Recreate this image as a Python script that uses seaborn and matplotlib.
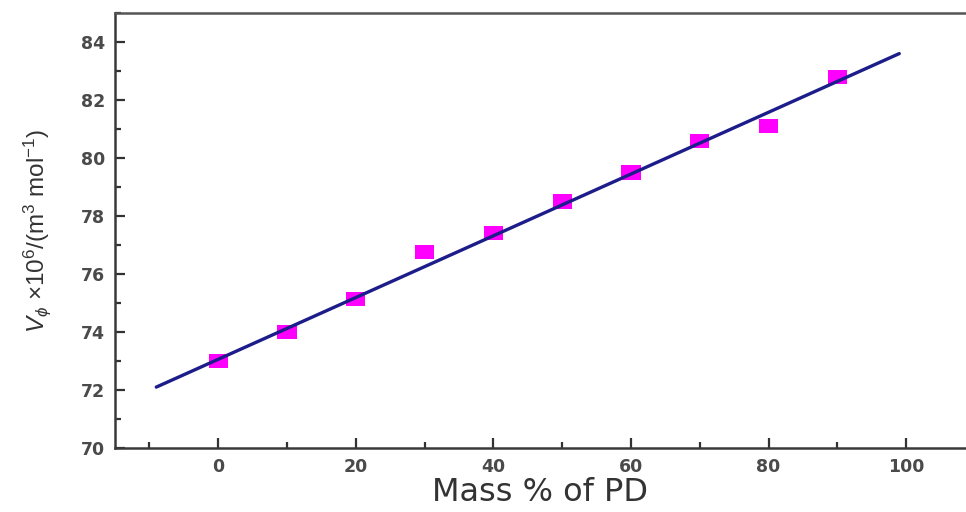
import matplotlib
matplotlib.use("Agg")
import matplotlib.pyplot as plt
import matplotlib.ticker as mticker
import seaborn as sns
import pandas as pd

# data
mass_pct = [0, 10, 20, 30, 40, 50, 60, 70, 80, 90]
v_phi = [73.0, 74.0, 75.15, 76.75, 77.4, 78.5, 79.5, 80.6, 81.1, 82.8]
fit_x = [-9, 99]
fit_y = [72.1, 83.6]

sns.set_theme(style="ticks")
plt.rcParams["font.family"] = ["DejaVu Sans"]
plt.rcParams["mathtext.fontset"] = "custom"
plt.rcParams["mathtext.rm"] = "Liberation Sans"
plt.rcParams["mathtext.it"] = "Liberation Sans:italic"

df = pd.DataFrame({"mass": mass_pct, "v": v_phi})
fit = pd.DataFrame({"x": fit_x, "y": fit_y})

fig = plt.figure(figsize=(9.66, 5.12), dpi=100)
ax = fig.add_axes([115 / 966, 1 - 448 / 512, 1 - 115 / 966, (448 - 13) / 512])

# slightly wide square marker, like the stretched original
rect = [(-1.35, -1), (1.35, -1), (1.35, 1), (-1.35, 1), (-1.35, -1)]
sns.scatterplot(data=df, x="mass", y="v", ax=ax, marker=rect, s=190,
                color="#ff00ff", edgecolor="none", zorder=2)
sns.lineplot(data=fit, x="x", y="y", ax=ax, color="#1c1c8a", linewidth=2.4, zorder=3)

ax.set_xlim(-15, 108.7)
ax.set_ylim(70, 85)
ax.xaxis.set_major_locator(mticker.MultipleLocator(20))
ax.xaxis.set_minor_locator(mticker.MultipleLocator(10))
ax.yaxis.set_major_locator(mticker.MultipleLocator(2))
ax.yaxis.set_minor_locator(mticker.MultipleLocator(1))
ax.tick_params(which="major", direction="in", length=7, width=1.6, color="#333333",
               labelsize=12.5, labelcolor="#4a4a4a", pad=7)
ax.tick_params(which="minor", direction="in", length=4, width=1.6, color="#333333")
for lbl in ax.get_xticklabels() + ax.get_yticklabels():
    lbl.set_fontweight("bold")

ax.spines["right"].set_visible(False)
for side in ["left", "bottom", "top"]:
    ax.spines[side].set_linewidth(1.8)
    ax.spines[side].set_color("#3a3a3a")
ax.spines["top"].set_color("#555555")

ax.set_xlabel("Mass % of PD", fontsize=23, color="#333333", labelpad=1)
ax.set_ylabel(r"$V_\phi$ ×10$^6$/(m$^3$ mol$^{-1}$)", fontsize=17.5, color="#333333",
              family=["Liberation Sans", "DejaVu Sans"], labelpad=20)

fig.savefig("out.png", dpi=100)
